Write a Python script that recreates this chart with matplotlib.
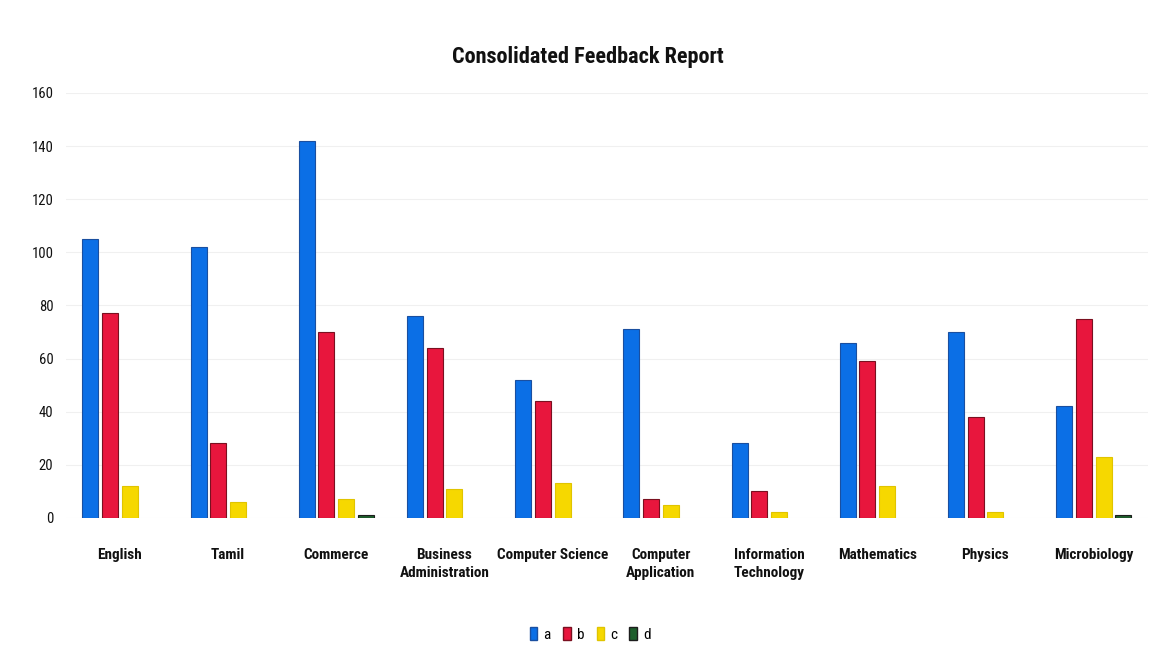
import matplotlib
matplotlib.use("Agg")
import matplotlib.pyplot as plt
import numpy as np
from matplotlib.patches import Patch

categories = ["English", "Tamil", "Commerce", "Business\nAdministration", "Computer Science",
              "Computer\nApplication", "Information\nTechnology", "Mathematics", "Physics", "Microbiology"]
series_names = ["a", "b", "c", "d"]
a_vals = [105, 102, 142, 76, 52, 71, 28, 66, 70, 42]
b_vals = [77, 28, 70, 64, 44, 7, 10, 59, 38, 75]
c_vals = [12, 6, 7, 11, 13, 5, 2, 12, 2, 23]
d_vals = [0, 0, 1, 0, 0, 0, 0, 0, 0, 1]
yticks = [0, 20, 40, 60, 80, 100, 120, 140, 160]
title = "Consolidated Feedback Report"

colors = ["#0b6fe6", "#e8163d", "#f6d800", "#1d5e2c"]
edges = ["#1a4fa0", "#7a1020", "#e0c400", "#1d1d1d"]

plt.rcParams['font.family'] = ['Roboto Condensed', 'Roboto', 'DejaVu Sans']

fig = plt.figure(figsize=(11.76, 6.69), dpi=100)
ax = fig.add_axes([0.056, 0.226, 0.92, 0.635])

x = np.arange(len(categories))
step = 0.182
width = 0.148
for i, vals in enumerate([a_vals, b_vals, c_vals, d_vals]):
    ec = [edges[i] if v > 0 else "none" for v in vals]
    ax.bar(x + (i - 1.5) * step, vals, width=width, color=colors[i],
           edgecolor=ec, linewidth=0.8, label=series_names[i], zorder=3)

ax.set_xlim(-0.5, len(categories) - 0.5)
ax.set_ylim(0, 160)
ax.set_yticks(yticks)
ax.set_yticklabels([str(v) for v in yticks], fontsize=10.5, color="#111111")
ax.set_xticks(x)
ax.set_xticklabels(categories, fontsize=11, fontweight="bold", color="#111111", linespacing=1.3)
ax.tick_params(axis="both", length=0)
ax.tick_params(axis="y", pad=9)
ax.tick_params(axis="x", pad=22)
ax.yaxis.grid(True, color="#f0f0f0", linewidth=0.8, zorder=0)
for s in ax.spines.values():
    s.set_visible(False)

fig.text(0.5, 0.915, title, ha="center", va="center", fontsize=16, fontweight="bold", color="#111111")

handles = [Patch(facecolor=colors[i], edgecolor=edges[i], label=series_names[i]) for i in range(4)]
fig.legend(handles=handles, loc="center", bbox_to_anchor=(0.502, 0.052), ncol=4, frameon=False,
           fontsize=11, handlelength=0.5, handleheight=1.0, handletextpad=0.4, columnspacing=0.8)

fig.savefig("out.png", dpi=100)
